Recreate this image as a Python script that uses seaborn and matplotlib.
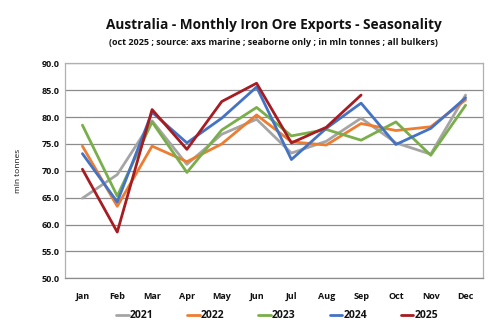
import matplotlib
matplotlib.use("Agg")
import matplotlib.pyplot as plt
import seaborn as sns
import pandas as pd

months = ["Jan", "Feb", "Mar", "Apr", "May", "Jun", "Jul", "Aug", "Sep", "Oct", "Nov", "Dec"]
exports_2021 = [64.9, 69.3, 79.3, 71.2, 76.8, 79.6, 73.3, 75.5, 79.8, 75.2, 73.1, 84.1]
exports_2022 = [74.6, 63.4, 74.6, 71.7, 75.0, 80.4, 75.4, 74.8, 78.8, 77.5, 78.2, 83.2]
exports_2023 = [78.5, 65.3, 79.1, 69.7, 77.6, 81.8, 76.5, 77.7, 75.7, 79.1, 72.9, 82.2]
exports_2024 = [73.2, 64.2, 80.9, 75.2, 79.8, 85.6, 72.1, 77.9, 82.6, 74.9, 77.9, 83.6]
exports_2025 = [70.3, 58.6, 81.4, 74.0, 82.9, 86.3, 75.2, 78.1, 84.1]
years = ["2021", "2022", "2023", "2024", "2025"]
year_colors = ["#A5A5A5", "#ED7D31", "#79AE4A", "#4472C4", "#A51C22"]

series = [exports_2021, exports_2022, exports_2023, exports_2024, exports_2025]
rows = []
for yr, vals in zip(years, series):
    for m, v in zip(months, vals):
        rows.append({"month": m, "year": yr, "value": v})
df = pd.DataFrame(rows)
df["month"] = pd.Categorical(df["month"], categories=months, ordered=True)
df["x"] = df["month"].cat.codes

sns.set_theme(style="white")
plt.rcParams["font.family"] = ["Open Sans", "DejaVu Sans"]
plt.rcParams["text.color"] = "#111111"
plt.rcParams["axes.labelcolor"] = "#111111"
plt.rcParams["xtick.color"] = "#111111"
plt.rcParams["ytick.color"] = "#111111"

fig = plt.figure(figsize=(5.0, 3.3), dpi=100)
ax = fig.add_axes([0.13, 0.1567, 0.836, 0.6513])

sns.lineplot(data=df, x="x", y="value", hue="year", hue_order=years,
             palette=dict(zip(years, year_colors)), linewidth=2.0,
             ax=ax, legend=True)

ax.set_xlim(-0.5, 11.5)
ax.set_ylim(50, 90)
ax.set_yticks([50, 55, 60, 65, 70, 75, 80, 85, 90])
ax.set_yticklabels([f"{v:.1f}" for v in ax.get_yticks()], fontsize=6.5, fontweight="bold")
ax.set_xticks(range(12))
ax.set_xticklabels(months, fontsize=6.5, fontweight="bold")
ax.tick_params(axis="x", pad=10, length=0)
ax.tick_params(axis="y", pad=4, length=0)
ax.yaxis.grid(True, color="#8C8C8C", linewidth=0.9)
ax.set_axisbelow(True)
for side in ["left", "right", "top", "bottom"]:
    ax.spines[side].set_color("#B0B0B0")
    ax.spines[side].set_linewidth(0.9)
ax.spines["bottom"].set_color("#8C8C8C")
ax.set_xlabel("")
ax.set_ylabel("mln tonnes", fontsize=6, labelpad=14)

handles, labels = ax.get_legend_handles_labels()
ax.get_legend().remove()
leg = fig.legend(handles, labels, loc="center", bbox_to_anchor=(0.554, 0.043), ncol=5,
                 frameon=False, handlelength=1.2, handletextpad=0.1, columnspacing=3.26,
                 prop={"size": 7.5, "weight": "bold"})

fig.text(0.547, 0.925, "Australia - Monthly Iron Ore Exports - Seasonality",
         ha="center", va="center", fontsize=9.8, fontweight="bold")
fig.text(0.546, 0.872, "(oct 2025 ; source: axs marine ; seaborne only ; in mln tonnes ; all bulkers)",
         ha="center", va="center", fontsize=6.5, fontweight="bold")

fig.savefig("out.png", dpi=100)
